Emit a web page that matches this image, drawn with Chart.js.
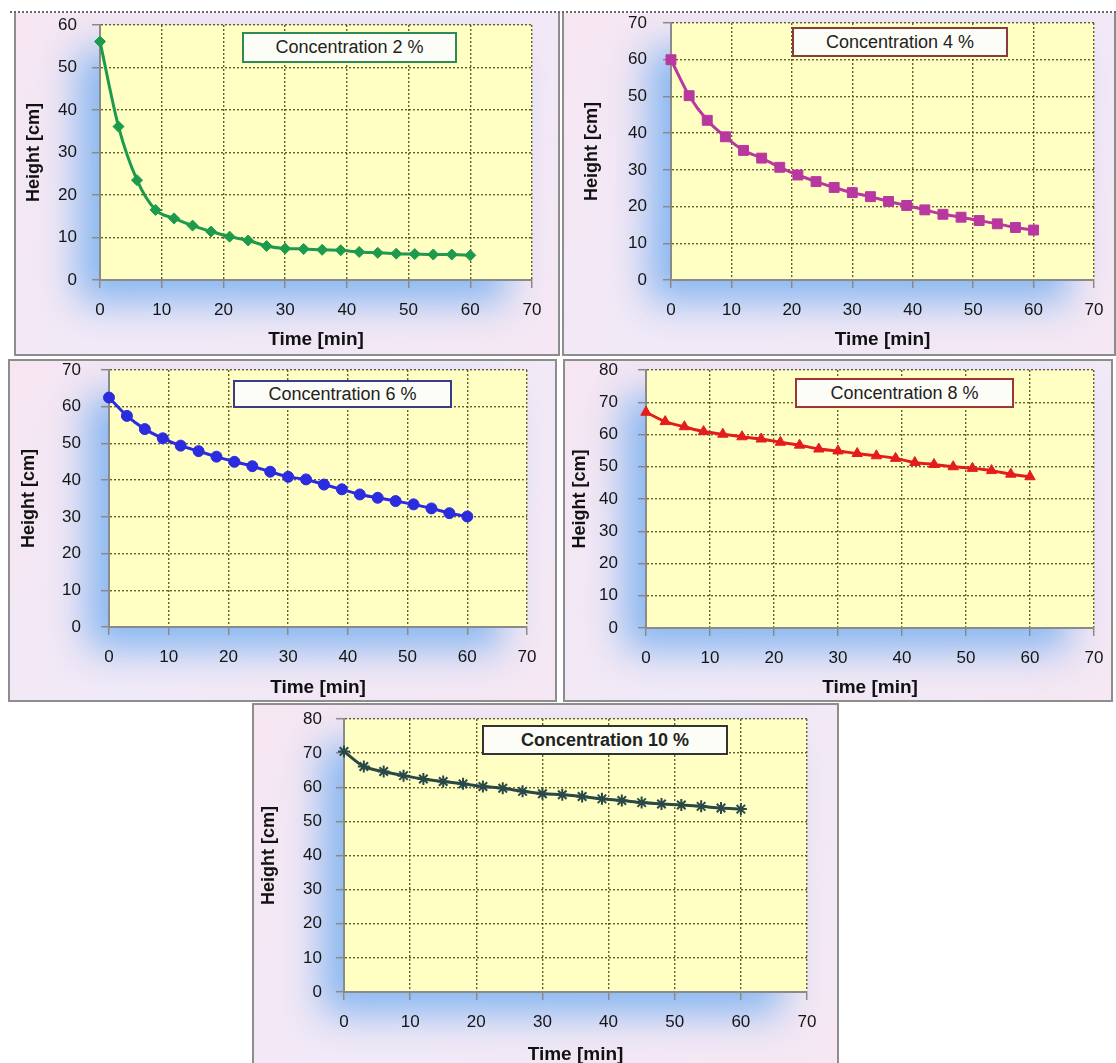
<!DOCTYPE html>
<html>
<head>
<meta charset="utf-8">
<script src="https://cdn.jsdelivr.net/npm/chart.js@4.4.0/dist/chart.umd.min.js"></script>
<style>
  html, body { margin:0; padding:0; background:#fff; width:1116px; height:1063px; overflow:hidden; }
  body { position:relative; font-family:"Liberation Sans", Arial, sans-serif; }
  .panel { position:absolute; overflow:hidden; background:linear-gradient(135deg, #f6e6f2 0%, #f1e9f7 50%, #f5e7f3 100%); }
  .glow { position:absolute; background:#c9dcf6; box-shadow:-24px 24px 36px -2px rgba(130,180,240,0.95); }
  .frame { position:absolute; left:0; top:0; right:0; bottom:0; box-sizing:border-box; border:2px solid #8d8d8d; pointer-events:none; }
  .panel canvas { position:absolute; left:0; top:0; }
  .tbox { position:absolute; box-sizing:border-box; background:#fdfdf7; border:2px solid #555;
          font-size:18px; color:#222; display:flex; align-items:center; justify-content:center; white-space:nowrap; }
  .topline { position:absolute; left:10px; top:11px; width:1106px; border-top:2px dotted #666; }
</style>
</head>
<body>
<div class="topline"></div>
<script>
// Time axis (min)
const times = [0, 3, 6, 9, 12, 15, 18, 21, 24, 27, 30, 33, 36, 39, 42, 45, 48, 51, 54, 57, 60];

// Height [cm] for each concentration
const height2  = [56.1, 36.1, 23.5, 16.5, 14.5, 12.8, 11.4, 10.2, 9.3, 8.0, 7.4, 7.3, 7.1, 7.0, 6.6, 6.4, 6.2, 6.1, 6.0, 6.0, 5.8];
const height4  = [60.0, 50.2, 43.5, 39.0, 35.3, 33.2, 30.7, 28.6, 26.8, 25.2, 23.8, 22.7, 21.4, 20.3, 19.1, 17.9, 17.1, 16.2, 15.3, 14.3, 13.6];
const height6  = [62.5, 57.5, 53.9, 51.4, 49.4, 47.9, 46.4, 45.0, 43.8, 42.3, 40.9, 40.2, 38.8, 37.5, 36.1, 35.2, 34.3, 33.4, 32.3, 31.0, 30.1];
const height8  = [66.9, 64.0, 62.4, 60.9, 60.1, 59.3, 58.6, 57.6, 56.7, 55.5, 54.9, 54.1, 53.4, 52.6, 51.3, 50.7, 50.0, 49.5, 48.8, 47.7, 46.9];
const height10 = [70.5, 66.1, 64.6, 63.4, 62.4, 61.7, 61.0, 60.2, 59.7, 58.8, 58.1, 57.8, 57.3, 56.6, 56.1, 55.5, 55.1, 54.8, 54.4, 53.9, 53.6];

// Tick labels
const xTickLabels = [0, 10, 20, 30, 40, 50, 60, 70];
const yTicks60 = [0, 10, 20, 30, 40, 50, 60];
const yTicks70 = [0, 10, 20, 30, 40, 50, 60, 70];
const yTicks80 = [0, 10, 20, 30, 40, 50, 60, 70, 80];

const FONT = '"Liberation Sans", Arial, sans-serif';
const axisColor = '#8a8a8a';
const gridColor = 'rgba(80,80,30,0.9)';

// panel layout: box = panel rect, plot = chart area rect (page px)
const panels = [
  { title:'Concentration 2 %', data:height2, yTicks:yTicks60, color:'#1d9a4b', point:'rectRot', radius:5.5,
    box:[14,13,560,356], plot:[100,25,532,280], yTitleX:34, xTitleY:340, yGap:23,
    label:[242,32,457,63], labelBorder:'#2f8a55', noTop:true },
  { title:'Concentration 4 %', data:height4, yTicks:yTicks70, color:'#b8389f', point:'rect', radius:7,
    box:[562,13,1116,356], plot:[671,23,1094,280], yTitleX:592, xTitleY:340, yGap:24,
    label:[792,27,1008,57], labelBorder:'#8a3b3b', noTop:true },
  { title:'Concentration 6 %', data:height6, yTicks:yTicks70, color:'#2b2be0', point:'circle', radius:5.5,
    box:[8,359,557,702], plot:[109,370,527,627], yTitleX:29, xTitleY:688, yGap:28,
    label:[233,380,452,408], labelBorder:'#3b3b8c' },
  { title:'Concentration 8 %', data:height8, yTicks:yTicks80, color:'#e41c1c', point:'triangle', radius:6,
    box:[563,359,1113,702], plot:[646,370,1094,628], yTitleX:580, xTitleY:688, yGap:28,
    label:[795,378,1014,408], labelBorder:'#a33434' },
  { title:'Concentration 10 %', data:height10, yTicks:yTicks80, color:'#2a4848', point:'star', radius:6,
    box:[252,703,839,1075], plot:[344,719,807,992], yTitleX:269, xTitleY:1055, yGap:22,
    label:[482,725,728,755], labelBorder:'#333333', bold:true }
];

// yellow plot area
const plotBg = {
  id:'plotBg',
  beforeDraw(chart) {
    const {ctx, chartArea:a} = chart;
    ctx.save();
    ctx.fillStyle = '#ffffc4';
    ctx.fillRect(a.left, a.top, a.width, a.height);
    ctx.restore();
  }
};

panels.forEach(p => {
  const [bl, bt, br, bb] = p.box;
  const [pl, pt, pr, pb] = p.plot;
  const w = br - bl, h = bb - bt;

  const panel = document.createElement('div');
  panel.className = 'panel';
  Object.assign(panel.style, { left:bl+'px', top:bt+'px', width:w+'px', height:h+'px' });

  const glow = document.createElement('div');
  glow.className = 'glow';
  Object.assign(glow.style, { left:(pl-bl)+'px', top:(pt-bt)+'px', width:(pr-pl)+'px', height:(pb-pt)+'px' });
  panel.appendChild(glow);

  const cv = document.createElement('canvas');
  cv.width = w; cv.height = h;
  panel.appendChild(cv);

  const [ll, lt, lr, lb] = p.label;
  const tb = document.createElement('div');
  tb.className = 'tbox';
  tb.textContent = p.title;
  Object.assign(tb.style, { left:(ll-bl)+'px', top:(lt-bt)+'px', width:(lr-ll)+'px', height:(lb-lt)+'px',
    borderColor:p.labelBorder, fontWeight:p.bold ? 'bold' : 'normal' });
  panel.appendChild(tb);

  const fr = document.createElement('div');
  fr.className = 'frame';
  if (p.noTop) fr.style.borderTop = 'none';
  panel.appendChild(fr);

  document.body.appendChild(panel);

  new Chart(cv, {
    type:'line',
    data:{ datasets:[{
      data: times.map((t, k) => ({ x:t, y:p.data[k] })),
      borderColor:p.color, backgroundColor:p.color, borderWidth:3,
      pointStyle:p.point, pointRadius:p.radius, pointBorderColor:p.color, pointBackgroundColor:p.color,
      pointBorderWidth: p.point === 'star' ? 2 : 1,
      cubicInterpolationMode:'monotone', fill:false, clip:false
    }]},
    options:{
      responsive:false, animation:false,
      layout:{ padding:{ left:0, top:pt-bt, right:br-pr, bottom:0 } },
      plugins:{ legend:{display:false}, tooltip:{enabled:false} },
      scales:{
        x:{
          type:'linear', min:0, max:70,
          afterBuildTicks: s => { s.ticks = xTickLabels.map(v => ({ value:v })); },
          // fixed axis band; drop label overflow padding so the plot edges stay put
          afterFit: s => { s.height = bb - pb; s.paddingLeft = 0; s.paddingRight = 0; },
          grid:{ color:gridColor, lineWidth:1.4, tickColor:axisColor, tickLength:8, tickWidth:1.5 },
          border:{ color:axisColor, width:2, dash:[2,2] },
          ticks:{ padding:12, color:'#151515', font:{ family:FONT, size:17 }, maxRotation:0, autoSkip:false },
          title:{ display:true, text:'Time [min]', color:'#111', font:{ family:FONT, size:19, weight:'bold' },
                  padding:{ top:0, bottom:(bb - p.xTitleY) - 11.4 } }
        },
        y:{
          type:'linear', min:0, max:p.yTicks[p.yTicks.length - 1],
          afterBuildTicks: s => { s.ticks = p.yTicks.map(v => ({ value:v })); },
          afterFit: s => { s.width = pl - bl; s.paddingTop = 0; s.paddingBottom = 0; },
          grid:{ color:gridColor, lineWidth:1.4, tickColor:axisColor, tickLength:8, tickWidth:1.5 },
          border:{ color:axisColor, width:2, dash:[2,2] },
          ticks:{ padding:p.yGap - 8, color:'#151515', font:{ family:FONT, size:17 } },
          title:{ display:true, text:'Height [cm]', color:'#111', font:{ family:FONT, size:18, weight:'bold' },
                  padding:{ top:(p.yTitleX - bl) - 10.8, bottom:0 } }
        }
      }
    },
    plugins:[plotBg]
  });
});
</script>
</body>
</html>
